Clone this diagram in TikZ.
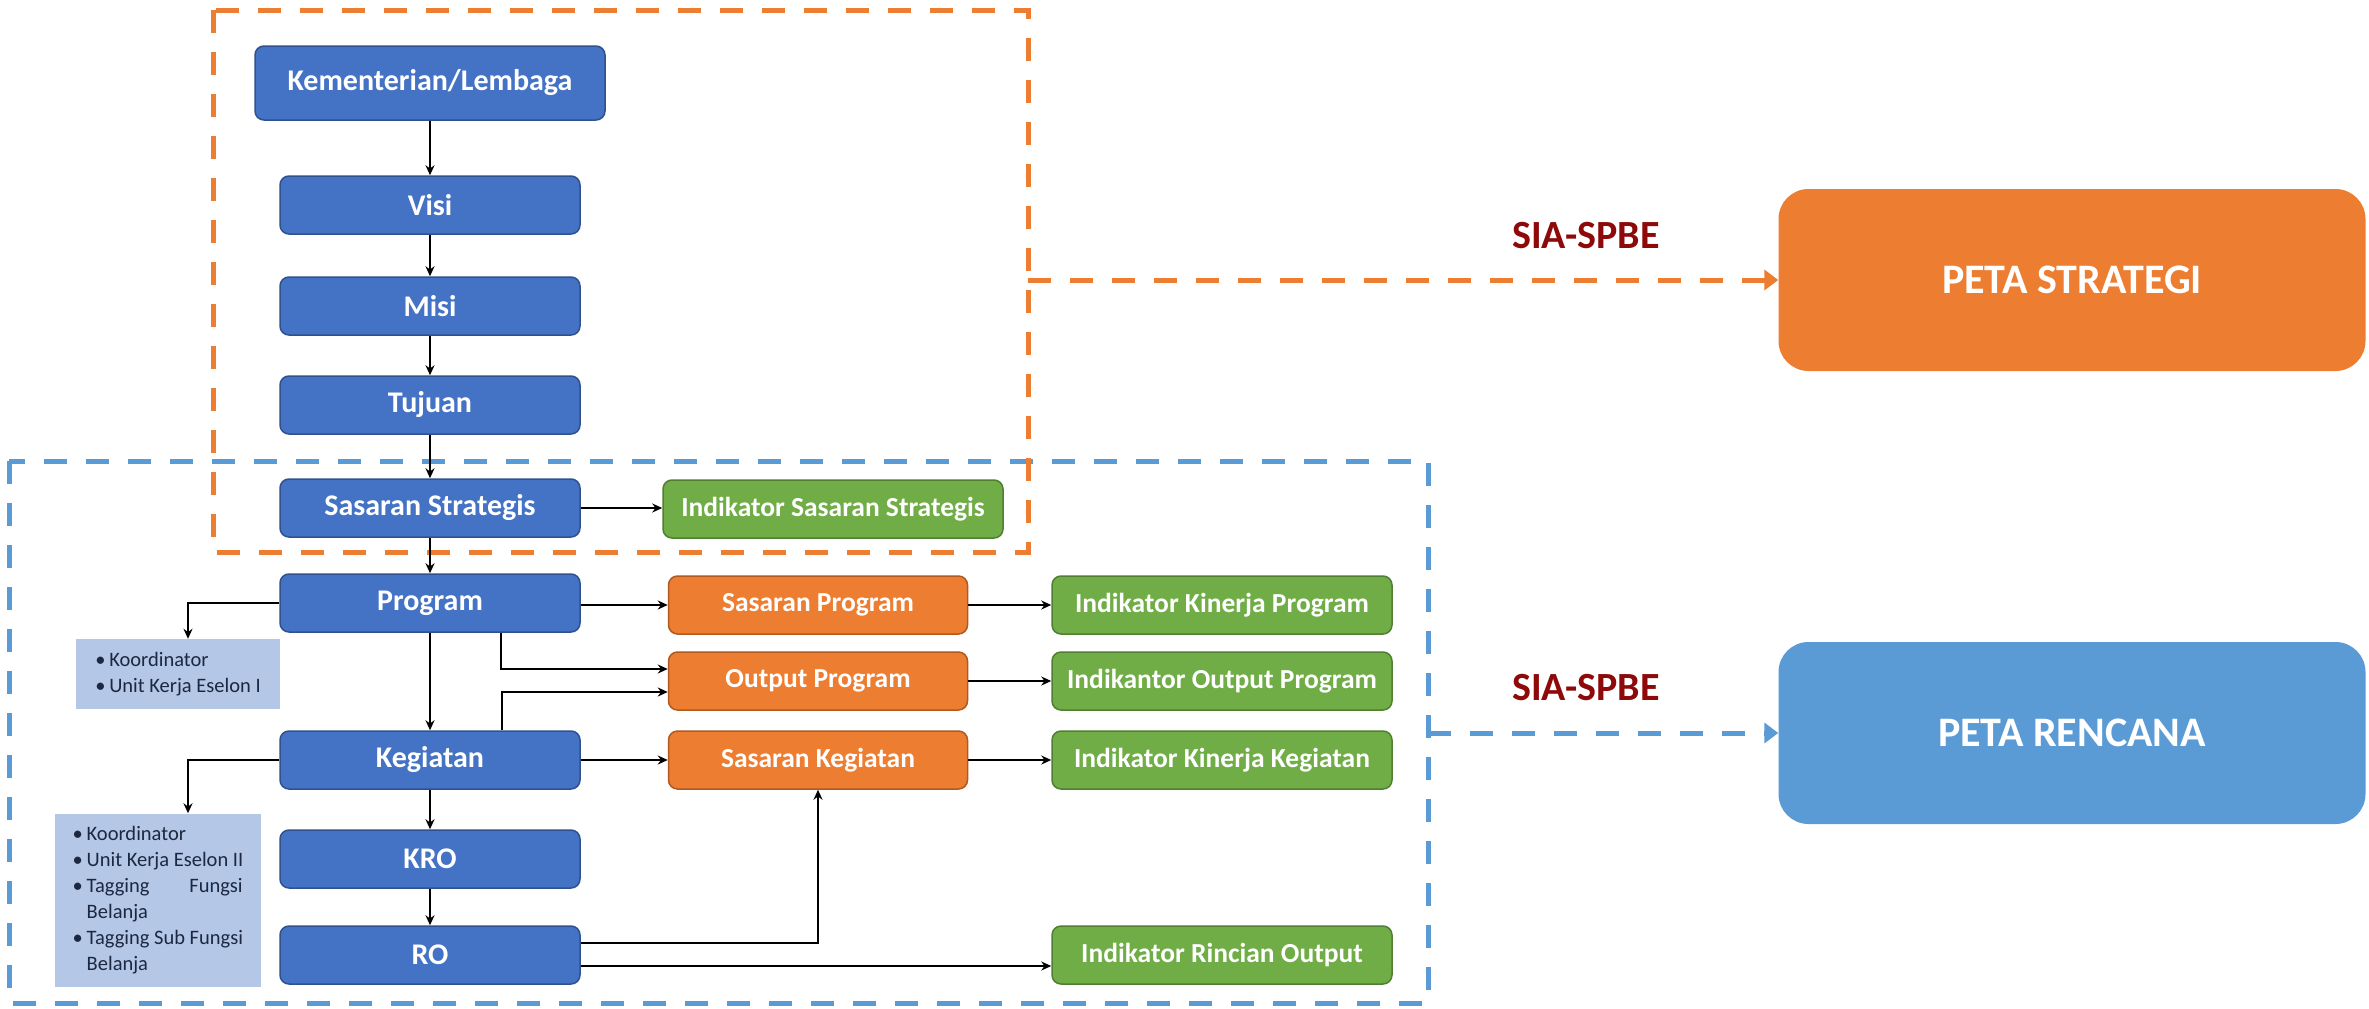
\documentclass[tikz,border=0pt]{standalone}
\usepackage{fontspec}
\setmainfont{Carlito}
\usetikzlibrary{arrows.meta}
\definecolor{bluebox}{HTML}{4472C4}
\definecolor{bluedark}{HTML}{2F528F}
\definecolor{orangebox}{HTML}{ED7D31}
\definecolor{orangedark}{HTML}{AE5A21}
\definecolor{greenbox}{HTML}{70AD47}
\definecolor{greendark}{HTML}{507E32}
\definecolor{bluedash}{HTML}{5B9BD5}
\definecolor{kfill}{HTML}{B4C7E7}
\definecolor{knavy}{HTML}{1C2841}
\definecolor{darkred}{HTML}{8E0A0A}
\newcommand{\bul}{\makebox[14pt][l]{\textbullet}}
\begin{document}
\begin{tikzpicture}[x=1pt,y=-1pt,
  basenode/.style={draw, line width=1.5pt, rounded corners=9pt, minimum height=58pt, inner sep=0pt, text=white, font=\fontsize{30}{34}\selectfont\bfseries},
  bluenode/.style={basenode, fill=bluebox, draw=bluedark, minimum width=300pt},
  orangenode/.style={basenode, fill=orangebox, draw=orangedark, minimum width=299pt, font=\fontsize{27.5}{32}\selectfont\bfseries},
  greennode/.style={basenode, fill=greenbox, draw=greendark, minimum width=340pt, font=\fontsize{27.5}{32}\selectfont\bfseries},
  listnode/.style={fill=kfill, text=knavy, align=left, inner sep=0pt, font=\fontsize{20.5}{26}\selectfont},
  bignode/.style={rounded corners=30pt, minimum width=587pt, minimum height=182pt, inner sep=0pt, text=white, font=\fontsize{42}{50}\selectfont\bfseries},
  conn/.style={draw=black, line width=1.8pt, -{Stealth[length=10pt,width=9pt]}},
  odash/.style={draw=orangebox, line width=5pt, dash pattern=on 23pt off 19pt},
  bdash/.style={draw=bluedash, line width=5pt, dash pattern=on 23pt off 19pt},
  sialabel/.style={text=darkred, font=\fontsize{40}{48}\selectfont\bfseries}
]
\useasboundingbox[fill=white] (0,0) rectangle (2369,1009);

% dashed frames
\draw[bdash] (9,461) rectangle (1428,1003);
\draw[odash] (213,10) rectangle (1028,552);

% left column
\node[bluenode, minimum width=350pt, minimum height=74pt] (kl) at (430,83) {Kementerian/Lembaga};
\node[bluenode] (visi) at (430,205) {Visi};
\node[bluenode] (misi) at (430,306) {Misi};
\node[bluenode] (tujuan) at (430,405) {Tujuan};
\node[bluenode] (ss) at (430,508) {Sasaran Strategis};
\node[greennode] (iss) at (833,509) {Indikator Sasaran Strategis};
\node[bluenode] (prog) at (430,603) {Program};
\node[bluenode] (keg) at (430,760) {Kegiatan};
\node[bluenode] (kro) at (430,859) {KRO};
\node[bluenode] (ro) at (430,955) {RO};

% middle column
\node[orangenode] (sp) at (818,605) {Sasaran Program};
\node[orangenode] (op) at (818,681) {Output Program};
\node[orangenode] (sk) at (818,760) {Sasaran Kegiatan};

% right column
\node[greennode] (ikp) at (1222,605) {Indikator Kinerja Program};
\node[greennode] (iop) at (1222,681) {Indikantor Output Program};
\node[greennode] (ikk) at (1222,760) {Indikator Kinerja Kegiatan};
\node[greennode] (iro) at (1222,955) {Indikator Rincian Output};

% list boxes
\node[listnode, minimum width=204pt, minimum height=70pt] (kb1) at (178,674)
  {\bul Koordinator\\\bul Unit Kerja Eselon I};
\node[listnode, minimum width=206pt, minimum height=173pt] (kb2) at (158,900)
  {\bul Koordinator\\
   \bul Unit Kerja Eselon II\\
   \bul\makebox[156pt][l]{Tagging\hfill Fungsi}\\
   \hspace*{14pt}Belanja\\
   \bul Tagging Sub Fungsi\\
   \hspace*{14pt}Belanja};

% big targets
\node[bignode, fill=orangebox] (ps) at (2072,280) {PETA STRATEGI};
\node[bignode, fill=bluedash] (pr) at (2072,733) {PETA RENCANA};
\node[sialabel] (sia1) at (1586,236) {SIA-SPBE};
\node[sialabel] (sia2) at (1586,688) {SIA-SPBE};

% vertical chain
\draw[conn] (kl) -- (visi);
\draw[conn] (visi) -- (misi);
\draw[conn] (misi) -- (tujuan);
\draw[conn] (tujuan) -- (ss);
\draw[conn] (ss) -- (prog);
\draw[conn] (prog) -- (keg);
\draw[conn] (keg) -- (kro);
\draw[conn] (kro) -- (ro);

% horizontal links
\draw[conn] (ss) -- (ss.east -| iss.west);
\draw[conn] (prog.east |- sp) -- (sp);
\draw[conn] (sp) -- (ikp);
\draw[conn] (op) -- (iop);
\draw[conn] (keg) -- (sk);
\draw[conn] (sk) -- (ikk);

% elbows
\draw[conn] (prog.west) -| ([xshift=10pt]kb1.north);
\draw[conn] (keg.west) -| ([xshift=30pt]kb2.north);
\draw[conn] ([xshift=71pt]prog.south) |- ([yshift=12pt]op.west);
\draw[conn] ([xshift=72pt]keg.north) |- ([yshift=-11pt]op.west);
\draw[conn] ([yshift=12pt]ro.east) -| (sk.south);
\draw[conn] ([yshift=-11pt]ro.east) -- ([yshift=-11pt]ro.east -| iro.west);

% dashed arrows to targets
\coordinate (oR) at (1028,280);
\coordinate (bR) at (1428,733);
\draw[odash, -{Triangle[length=14pt,width=20pt]}] (oR) -- (ps.west);
\draw[bdash, -{Triangle[length=14pt,width=20pt]}] (bR) -- (pr.west);
\end{tikzpicture}
\end{document}
